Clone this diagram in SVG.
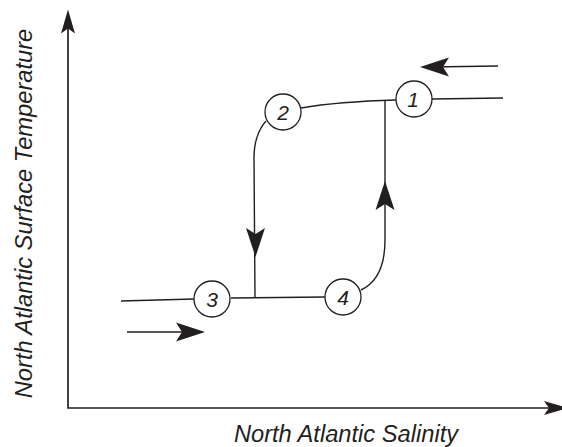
<svg xmlns="http://www.w3.org/2000/svg" xmlns:xlink="http://www.w3.org/1999/xlink" width="562" height="447" viewBox="0 0 562 447">
<style>
.ln{fill:none;stroke:#231f20;stroke-width:1.4}
.ax{fill:none;stroke:#231f20;stroke-width:1.7}
.nd{fill:#fff;stroke:#231f20;stroke-width:1.3}
.num{font-family:"Liberation Sans",Arial,sans-serif;font-style:italic;font-size:21px;fill:#231f20;text-anchor:middle}
.lab{font-family:"Liberation Sans",Arial,sans-serif;font-style:italic;font-size:23.7px;fill:#231f20;text-anchor:middle}
.ah{fill:#231f20}
</style>
<defs>
<path id="ah" d="M0,0 L-29,-9.5 L-23,0 L-29,9.5 Z"/>
<path id="axh" d="M0,0 L-24,-7 L-19,0 L-24,7 Z"/>
</defs>
<g id="axes">
<path class="ax" d="M68,20 L68,408 L555,408"/>
<use href="#axh" class="ah" transform="translate(68,9.5) rotate(-90)"/>
<use href="#axh" class="ah" transform="translate(568,408)"/>
</g>
<g id="connectors">
<path class="ln" d="M432,99 L503,98"/>
<path class="ln" d="M301,108 C330,103 360,101 396,100"/>
<path class="ln" d="M385,101 L385,240 C385,268 376,283 361,290"/>
<path class="ln" d="M266,121 C258,130 254,142 254,158 L255,298"/>
<path class="ln" d="M231,298 L325,297"/>
<path class="ln" d="M121,301 L194,299"/>
<path class="ax" d="M498,66 L430,67"/>
<path class="ax" d="M127,332 L195,332"/>
<use href="#ah" class="ah" transform="translate(420,67) rotate(180)"/>
<use href="#ah" class="ah" transform="translate(205,332)"/>
<use href="#ah" class="ah" transform="translate(255.5,257) rotate(90)"/>
<use href="#ah" class="ah" transform="translate(385,181) rotate(-90)"/>
</g>
<g id="node1"><circle class="nd" cx="414" cy="99" r="18"/><text class="num" x="413" y="106.5">1</text></g>
<g id="node2"><circle class="nd" cx="283" cy="112" r="18"/><text class="num" x="283" y="119.5">2</text></g>
<g id="node3"><circle class="nd" cx="212" cy="299" r="18"/><text class="num" x="212" y="306.5">3</text></g>
<g id="node4"><circle class="nd" cx="343" cy="297" r="18"/><text class="num" x="343" y="304.5">4</text></g>
<text class="lab" x="346" y="442">North Atlantic Salinity</text>
<text class="lab" transform="translate(32,213.5) rotate(-90)">North Atlantic Surface Temperature</text>
</svg>
